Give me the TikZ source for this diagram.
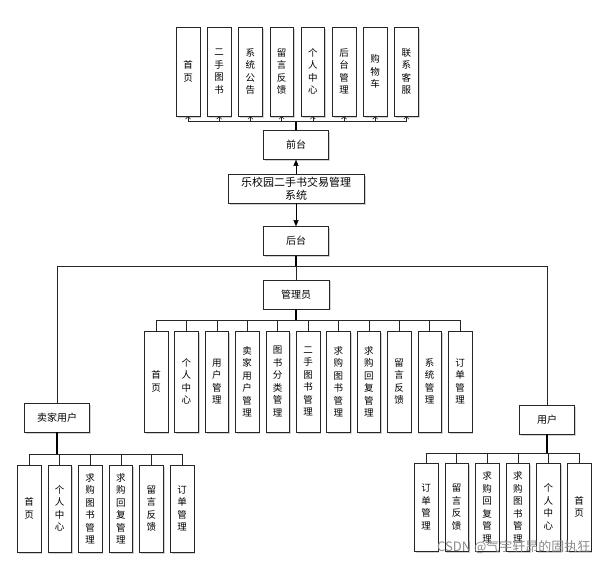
\documentclass[tikz,border=0pt]{standalone}
\usepackage{fontspec}
\setmainfont{Noto Sans CJK SC}
\XeTeXlinebreaklocale "zh"
\XeTeXlinebreakskip=0pt plus 1pt
\usetikzlibrary{positioning}
\usetikzlibrary{arrows.meta,shadows}

\begin{document}
\begin{tikzpicture}[x=1pt,y=-1pt,
    basic/.style={draw=black!85,fill=white,inner sep=0pt,
        drop shadow={shadow xshift=1.5pt,shadow yshift=-1.5pt,fill=black!35}},
    main/.style={basic,minimum width=65pt,minimum height=29pt,font=\fontsize{10}{12}\selectfont},
    leaf/.style={basic,minimum width=23.5pt,text width=11pt,align=center,font=\fontsize{9.5}{12.5}\selectfont},
    bus/.style={draw=black!85,line width=0.6pt},
    trunk/.style={draw=black,line width=1.3pt},
]
    \useasboundingbox (0,0) rectangle (605,566);
        % middle column
        \node[main,minimum width=136pt,align=center,font=\fontsize{11}{13}\selectfont] (sys) at (296,188.5) {乐校园二手书交易管理\\系统};
        \node[main,above=14pt of sys] (qiantai) {前台};
            \path[draw,-{Triangle[length=6pt,width=5pt]}] (sys) -- (qiantai);
        \node[main,below=23pt of sys] (houtai) {后台};
            \path[draw,-{Triangle[length=6pt,width=5pt]}] (sys) -- (houtai);
        \node[main,minimum width=66pt,below=24pt of houtai] (admin) {管理员};
        \node[main] (seller) at (57,417.5) {卖家用户};
        \node[main,minimum width=55pt] (user) at (547,419.5) {用户};
%        front pages
        \draw[trunk] (qiantai.north) -- ++(0,-9) coordinate (topbus);
        \foreach \txt [count=\i from 0] in {首页,二手图书,系统公告,留言反馈,个人中心,后台管理,购物车,联系客服}
            \node[leaf,minimum height=89pt] (top\i) at (188+31.2*\i,71.5) {\txt};
        \foreach \i in {0,...,7}
            \path[bus,-{Straight Barb[length=2.5pt,width=5pt]}] (topbus) -| (top\i.south);
%        back end
        \draw[trunk] (houtai.south) -- ++(0,11) coordinate (midbus);
        \path[bus] (midbus) -| (seller.north);
        \path[bus] (midbus) -| (user.north);
        \path[bus] (midbus) -- (admin.north);
%        admin pages
        \foreach \txt [count=\i from 0] in {首页,个人中心,用户管理,卖家用户管理,图书分类管理,二手图书管理,求购图书管理,求购回复管理,留言反馈,系统管理,订单管理}
            \node[leaf,minimum height=101pt] (adm\i) at (156+30.4*\i,381.5) {\txt};
        \draw[trunk] (admin.south) -- ++(0,11) coordinate (adminbus);
        \foreach \i in {0,...,10}
            \path[bus] (adminbus) -| (adm\i.north);
%        seller pages
        \foreach \txt [count=\i from 0] in {首页,个人中心,求购图书管理,求购回复管理,留言反馈,订单管理}
            \node[leaf,minimum height=87pt] (sel\i) at (29+30.6*\i,508.5) {\txt};
        \draw[trunk] (seller.south) -- ++(0,22) coordinate (sellerbus);
        \foreach \i in {0,...,5}
            \path[bus] (sellerbus) -| (sel\i.north);
%        user pages
        \foreach \txt [count=\i from 0] in {订单管理,留言反馈,求购回复管理,求购图书管理,个人中心,首页}
            \node[leaf,minimum height=88pt] (usr\i) at (426+30.6*\i,507) {\txt};
        \draw[trunk] (user.south) -- ++(0,19) coordinate (userbus);
        \foreach \i in {0,...,5}
            \path[bus] (userbus) -| (usr\i.north);
        \node[text=black!45,font=\fontsize{13}{13}\selectfont,anchor=east] (mark) at (594,547) {CSDN @气宇轩昂的固执狂};
    \end{tikzpicture}
\end{document}
